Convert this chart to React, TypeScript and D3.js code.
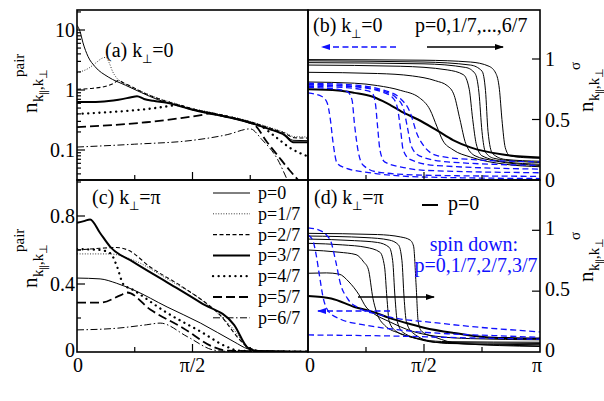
import React from 'react';
import * as d3 from 'd3';

type Pt = [number, number];

const FONT = '"Liberation Serif", "Times New Roman", Times, serif';
const BLUE = '#1010ff';
const PAR = '\u2225';

const pLabels = ['p=0', 'p=1/7', 'p=2/7', 'p=3/7', 'p=4/7', 'p=5/7', 'p=6/7'];
const xTickLabelsL = ['0', 'π/2'];
const xTickLabelsR = ['0', 'π/2', 'π'];

// (a) pair momentum distribution, k_perp = 0 (k in units of pi), log scale
const pairA0: Pt[] = [[0, 12], [0.013, 9.5], [0.026, 6.1], [0.048, 3.6], [0.078, 2.45], [0.135, 1.65], [0.21, 1.2], [0.28, 0.9], [0.35, 0.69], [0.43, 0.56], [0.5, 0.47], [0.57, 0.41], [0.65, 0.355], [0.735, 0.295], [0.83, 0.225], [0.9, 0.18], [0.935, 0.145], [1, 0.143]];
const pairA1: Pt[] = [[0, 1.95], [0.05, 2.3], [0.08, 2.8], [0.11, 3.4], [0.125, 3.5], [0.14, 2.8], [0.155, 2.0], [0.17, 1.62], [0.21, 1.26], [0.28, 0.94], [0.35, 0.73], [0.43, 0.59], [0.5, 0.49], [0.57, 0.43], [0.65, 0.37], [0.735, 0.31], [0.83, 0.24], [0.9, 0.195], [0.94, 0.167], [1, 0.165]];
const pairA2: Pt[] = [[0, 1.03], [0.07, 1.07], [0.13, 1.17], [0.16, 1.3], [0.18, 1.45], [0.2, 1.32], [0.23, 1.17], [0.28, 0.93], [0.35, 0.72], [0.43, 0.58], [0.5, 0.485], [0.57, 0.425], [0.65, 0.365], [0.735, 0.305], [0.83, 0.235], [0.9, 0.19], [0.94, 0.16], [1, 0.158]];
const pairA3: Pt[] = [[0, 0.63], [0.1, 0.64], [0.18, 0.69], [0.23, 0.75], [0.26, 0.79], [0.29, 0.71], [0.33, 0.66], [0.39, 0.61], [0.43, 0.56], [0.5, 0.47], [0.57, 0.41], [0.65, 0.355], [0.735, 0.295], [0.83, 0.225], [0.9, 0.175], [0.935, 0.135], [1, 0.135]];
const pairA4: Pt[] = [[0, 0.4], [0.15, 0.43], [0.3, 0.48], [0.4, 0.54], [0.43, 0.56], [0.5, 0.475], [0.57, 0.415], [0.65, 0.36], [0.735, 0.3], [0.8, 0.245], [0.86, 0.165], [0.92, 0.11], [1, 0.078]];
const pairA5: Pt[] = [[0, 0.24], [0.15, 0.26], [0.3, 0.29], [0.45, 0.34], [0.55, 0.39], [0.575, 0.41], [0.65, 0.355], [0.735, 0.295], [0.77, 0.26], [0.82, 0.14], [0.87, 0.08], [0.92, 0.046], [0.95, 0.034], [0.98, 0.025]];
const pairA6: Pt[] = [[0, 0.112], [0.25, 0.125], [0.5, 0.145], [0.65, 0.18], [0.75, 0.225], [0.8, 0.15], [0.87, 0.068], [0.91, 0.032], [0.93, 0.022]];

// (c) pair momentum distribution, k_perp = pi
const pairC0: Pt[] = [[0, 0.435], [0.1, 0.43], [0.17, 0.405], [0.245, 0.365], [0.39, 0.265], [0.535, 0.17], [0.68, 0.06], [0.74, 0.018], [0.8, 0.006], [1, 0.002]];
const pairC1: Pt[] = [[0, 0.577], [0.14, 0.577], [0.245, 0.54], [0.39, 0.43], [0.535, 0.31], [0.68, 0.13], [0.745, 0.02], [0.8, 0.006], [1, 0.002]];
const pairC2: Pt[] = [[0, 0.6], [0.1, 0.61], [0.17, 0.615], [0.22, 0.6], [0.317, 0.5], [0.46, 0.38], [0.61, 0.23], [0.74, 0.03], [0.8, 0.006], [1, 0.002]];
const pairC3: Pt[] = [[0, 0.76], [0.03, 0.77], [0.057, 0.78], [0.1, 0.7], [0.143, 0.62], [0.243, 0.53], [0.39, 0.41], [0.535, 0.29], [0.68, 0.16], [0.74, 0.024], [0.78, 0.006], [1, 0.002]];
const pairC4: Pt[] = [[0, 0.605], [0.1, 0.6], [0.145, 0.58], [0.174, 0.5], [0.2, 0.4], [0.243, 0.365], [0.39, 0.23], [0.535, 0.12], [0.65, 0.03], [0.7, 0.008], [1, 0.002]];
const pairC5: Pt[] = [[0, 0.29], [0.1, 0.29], [0.19, 0.335], [0.217, 0.35], [0.317, 0.25], [0.46, 0.14], [0.59, 0.03], [0.65, 0.008], [1, 0.002]];
const pairC6: Pt[] = [[0, 0.13], [0.174, 0.14], [0.3, 0.16], [0.36, 0.17], [0.478, 0.09], [0.59, 0.012], [0.65, 0.004], [1, 0.002]];

// (b) spin resolved n(k), k_perp = 0 ; p=0 (both spins), spin up p=1/7..6/7, spin down p=1/7..6/7
const bothB0: Pt[] = [[0, 0.75], [0.13, 0.74], [0.2, 0.72], [0.276, 0.69], [0.345, 0.63], [0.418, 0.55], [0.474, 0.5], [0.556, 0.41], [0.625, 0.33], [0.7, 0.27], [0.84, 0.21], [1, 0.185]];
const upB1: Pt[] = [[0, 0.81], [0.2, 0.8], [0.3, 0.78], [0.4, 0.74], [0.48, 0.68], [0.526, 0.58], [0.556, 0.44], [0.58, 0.33], [0.625, 0.25], [0.7, 0.19], [0.85, 0.13], [1, 0.11]];
const upB2: Pt[] = [[0, 0.89], [0.3, 0.88], [0.45, 0.86], [0.55, 0.82], [0.6, 0.78], [0.63, 0.7], [0.655, 0.5], [0.68, 0.3], [0.72, 0.2], [0.8, 0.16], [1, 0.12]];
const upB3: Pt[] = [[0, 0.95], [0.4, 0.94], [0.6, 0.91], [0.67, 0.87], [0.695, 0.75], [0.71, 0.5], [0.725, 0.3], [0.75, 0.2], [0.85, 0.15], [1, 0.13]];
const upB4: Pt[] = [[0, 0.97], [0.5, 0.96], [0.68, 0.93], [0.72, 0.88], [0.737, 0.72], [0.75, 0.4], [0.765, 0.23], [0.8, 0.18], [0.9, 0.155], [1, 0.145]];
const upB5: Pt[] = [[0, 0.985], [0.5, 0.975], [0.7, 0.95], [0.75, 0.9], [0.765, 0.74], [0.776, 0.4], [0.795, 0.22], [0.85, 0.17], [1, 0.155]];
const upB6: Pt[] = [[0, 0.995], [0.5, 0.99], [0.7, 0.975], [0.78, 0.94], [0.81, 0.88], [0.825, 0.75], [0.836, 0.5], [0.85, 0.27], [0.87, 0.2], [0.93, 0.185], [1, 0.18]];
const downB1: Pt[] = [[0, 0.8], [0.2, 0.785], [0.33, 0.74], [0.4, 0.67], [0.44, 0.56], [0.47, 0.38], [0.5, 0.28], [0.56, 0.2], [0.7, 0.17], [1, 0.15]];
const downB2: Pt[] = [[0, 0.79], [0.2, 0.775], [0.33, 0.73], [0.38, 0.68], [0.41, 0.6], [0.43, 0.42], [0.445, 0.28], [0.48, 0.2], [0.6, 0.15], [1, 0.12]];
const downB3: Pt[] = [[0, 0.785], [0.2, 0.77], [0.33, 0.72], [0.365, 0.68], [0.385, 0.6], [0.4, 0.4], [0.41, 0.25], [0.44, 0.17], [0.55, 0.12], [1, 0.09]];
const downB4: Pt[] = [[0, 0.775], [0.15, 0.765], [0.25, 0.74], [0.276, 0.72], [0.29, 0.64], [0.3, 0.44], [0.31, 0.25], [0.33, 0.15], [0.42, 0.1], [0.5, 0.08], [1, 0.06]];
const downB5: Pt[] = [[0, 0.765], [0.1, 0.755], [0.17, 0.73], [0.19, 0.66], [0.2, 0.47], [0.215, 0.25], [0.237, 0.124], [0.3, 0.066], [0.49, 0.04], [1, 0.03]];
const downB6: Pt[] = [[0, 0.72], [0.06, 0.69], [0.082, 0.64], [0.095, 0.52], [0.108, 0.31], [0.125, 0.14], [0.16, 0.1], [0.276, 0.058], [0.49, 0.025], [1, 0.012]];

// (d) spin resolved n(k), k_perp = pi ; spin down only p=1/7..3/7
const bothD0: Pt[] = [[0, 0.46], [0.1, 0.44], [0.2, 0.37], [0.28, 0.33], [0.35, 0.28], [0.42, 0.24], [0.5, 0.2], [0.63, 0.156], [0.78, 0.12], [1, 0.11]];
const upD1: Pt[] = [[0, 0.647], [0.08, 0.65], [0.134, 0.64], [0.177, 0.575], [0.22, 0.47], [0.25, 0.37], [0.28, 0.32], [0.35, 0.25], [0.45, 0.17], [0.55, 0.13], [0.7, 0.11], [1, 0.1]];
const upD2: Pt[] = [[0, 0.838], [0.134, 0.82], [0.207, 0.8], [0.24, 0.74], [0.26, 0.68], [0.28, 0.44], [0.295, 0.33], [0.33, 0.22], [0.4, 0.15], [0.5, 0.1], [0.6, 0.085], [1, 0.08]];
const upD3: Pt[] = [[0, 0.893], [0.15, 0.88], [0.25, 0.86], [0.31, 0.82], [0.33, 0.7], [0.34, 0.45], [0.35, 0.25], [0.38, 0.17], [0.45, 0.12], [0.55, 0.08], [1, 0.07]];
const upD4: Pt[] = [[0, 0.928], [0.2, 0.915], [0.3, 0.9], [0.35, 0.86], [0.365, 0.75], [0.375, 0.45], [0.385, 0.25], [0.41, 0.16], [0.5, 0.1], [0.6, 0.07], [1, 0.06]];
const upD5: Pt[] = [[0, 0.953], [0.25, 0.94], [0.35, 0.92], [0.39, 0.88], [0.405, 0.75], [0.414, 0.45], [0.424, 0.25], [0.45, 0.16], [0.55, 0.08], [1, 0.05]];
const upD6: Pt[] = [[0, 0.975], [0.3, 0.965], [0.4, 0.945], [0.44, 0.92], [0.455, 0.87], [0.466, 0.55], [0.475, 0.25], [0.49, 0.17], [0.55, 0.12], [0.65, 0.07], [1, 0.045]];
const downD1: Pt[] = [[0, 1.02], [0.05, 1.0], [0.08, 0.96], [0.1, 0.9], [0.12, 0.74], [0.14, 0.56], [0.17, 0.44], [0.22, 0.36], [0.3, 0.31], [0.4, 0.27], [0.5, 0.25], [0.7, 0.21], [1, 0.165]];
const downD2: Pt[] = [[0, 0.96], [0.02, 0.92], [0.035, 0.8], [0.05, 0.62], [0.065, 0.45], [0.09, 0.33], [0.14, 0.27], [0.25, 0.22], [0.4, 0.18], [0.6, 0.15], [0.8, 0.135], [1, 0.12]];
const downD3: Pt[] = [[0, 0.14], [0.2, 0.136], [0.4, 0.13], [0.6, 0.12], [0.8, 0.112], [1, 0.105]];

const pairA = [pairA0, pairA1, pairA2, pairA3, pairA4, pairA5, pairA6];
const pairC = [pairC0, pairC1, pairC2, pairC3, pairC4, pairC5, pairC6];
const upB = [upB1, upB2, upB3, upB4, upB5, upB6];
const downB = [downB1, downB2, downB3, downB4, downB5, downB6];
const upD = [upD1, upD2, upD3, upD4, upD5, upD6];
const downD = [downD1, downD2, downD3];

// line styles for p = 0 ... 6/7
const pStyles = [
  { w: 1, dash: undefined as string | undefined, cap: 'butt' },
  { w: 0.9, dash: '1,1.6', cap: 'butt' },
  { w: 1.1, dash: '4,2.5', cap: 'butt' },
  { w: 2, dash: undefined, cap: 'butt' },
  { w: 2.3, dash: '0.1,5.5', cap: 'round' },
  { w: 1.8, dash: '9,4', cap: 'butt' },
  { w: 1, dash: '7,2.5,1.5,2.5', cap: 'butt' },
];

const XL0 = 77, XL1 = 308, XR0 = 308, XR1 = 540;
const YT0 = 10, YT1 = 180, YB0 = 180, YB1 = 352;

const xL = d3.scaleLinear().domain([0, 1]).range([XL0, XL1]);
const xR = d3.scaleLinear().domain([0, 1]).range([XR0, XR1]);
const yA = d3.scaleLog().domain([Math.pow(10, -1.5), Math.pow(10, 4 / 3)]).range([YT1, YT0]);
const yB = d3.scaleLinear().domain([0, 170 / 121]).range([YT1, YT0]);
const yC = d3.scaleLinear().domain([0, 172 / 170]).range([YB1, YB0]);
const yD = d3.scaleLinear().domain([0, 172 / 121.7]).range([YB1, YB0]);

function path(data: Pt[], x: any, y: any) {
  return d3.line<Pt>().x(d => x(d[0])).y(d => y(d[1])).curve(d3.curveMonotoneX)(data) || '';
}

const xTickVals = [0.25, 0.5, 0.75];

function XTicks({ x, yb }: { x: any; yb: number }) {
  return (
    <g stroke="#000" strokeWidth={1.2}>
      {xTickVals.map(v => (
        <line key={v} x1={x(v)} x2={x(v)} y1={yb} y2={yb - (v === 0.5 ? 8 : 5)} />
      ))}
    </g>
  );
}

function Par({ dy = 5 }: { dy?: number }) {
  return <tspan fontSize={12} dy={dy}>{PAR}</tspan>;
}

function YLabel({ x, y, sup, supAt }: { x: number; y: number; sup: string; supAt: number }) {
  return (
    <g transform={`translate(${x},${y}) rotate(-90)`} fill="#000">
      <text x={0} y={0} fontSize={21}>n</text>
      <text x={11} y={6} fontSize={15}>k</text>
      <text x={18.5} y={10} fontSize={10}>{PAR}</text>
      <text x={23} y={6} fontSize={15}>,k</text>
      <text x={34.5} y={10} fontSize={11}>⊥</text>
      <text x={supAt} y={-13} fontSize={15}>{sup}</text>
    </g>
  );
}

export default function App() {
  const logTicks = yA.ticks();
  return (
    <svg width={604} height={401}
      style={{ position: 'absolute', left: 0, top: 0, background: '#fff', fontFamily: FONT }}>
      <style>{`text, tspan { font-family: ${FONT} !important; }`}</style>
      <defs>
        {/* identity filter: text drawn through it gets plain grey-scale antialiasing */}
        <filter id="flat" x="0" y="0" width="1" height="1" filterUnits="userSpaceOnUse">
          <feOffset dx={0} dy={0} />
        </filter>
        <clipPath id="cA"><rect x={XL0} y={YT0} width={XL1 - XL0} height={YT1 - YT0} /></clipPath>
        <clipPath id="cB"><rect x={XR0} y={YT0} width={XR1 - XR0} height={YT1 - YT0} /></clipPath>
        <clipPath id="cC"><rect x={XL0} y={YB0} width={XL1 - XL0} height={YB1 - YB0} /></clipPath>
        <clipPath id="cD"><rect x={XR0} y={YB0} width={XR1 - XR0} height={YB1 - YB0} /></clipPath>
        <marker id="hk" markerWidth={9} markerHeight={7} refX={8} refY={3.5} orient="auto" markerUnits="userSpaceOnUse">
          <path d="M0,0.5 L9,3.5 L0,6.5 Z" fill="#000" />
        </marker>
        <marker id="hb" markerWidth={9} markerHeight={7} refX={8} refY={3.5} orient="auto" markerUnits="userSpaceOnUse">
          <path d="M0,0.5 L9,3.5 L0,6.5 Z" fill={BLUE} />
        </marker>
      </defs>

      {/* panel (a) */}
      <g clipPath="url(#cA)" fill="none" stroke="#000">
        {pairA.map((d, i) => (
          <path key={i} d={path(d, xL, yA)} strokeWidth={pStyles[i].w} strokeDasharray={pStyles[i].dash}
            strokeLinecap={pStyles[i].cap as any} stroke={i === 1 ? '#222' : '#000'} />
        ))}
      </g>
      {/* panel (c) */}
      <g clipPath="url(#cC)" fill="none" stroke="#000">
        {pairC.map((d, i) => (
          <path key={i} d={path(d, xL, yC)} strokeWidth={pStyles[i].w} strokeDasharray={pStyles[i].dash}
            strokeLinecap={pStyles[i].cap as any} stroke={i === 1 ? '#222' : '#000'} />
        ))}
      </g>
      {/* panel (b) */}
      <g clipPath="url(#cB)" fill="none">
        {upB.map((d, i) => (
          <path key={i} d={path(d, xR, yB)} stroke="#000" strokeWidth={1} />
        ))}
        <path d={path(bothB0, xR, yB)} stroke="#000" strokeWidth={2} />
        {downB.map((d, i) => (
          <path key={i} d={path(d, xR, yB)} stroke={BLUE} strokeWidth={1.3} strokeDasharray="6,3.5" />
        ))}
      </g>
      {/* panel (d) */}
      <g clipPath="url(#cD)" fill="none">
        {upD.map((d, i) => (
          <path key={i} d={path(d, xR, yD)} stroke="#000" strokeWidth={1} />
        ))}
        <path d={path(bothD0, xR, yD)} stroke="#000" strokeWidth={2} />
        {downD.map((d, i) => (
          <path key={i} d={path(d, xR, yD)} stroke={BLUE} strokeWidth={1.3} strokeDasharray="6,3.5" />
        ))}
      </g>

      {/* arrows */}
      <line x1={427} y1={47} x2={503} y2={47} stroke="#000" strokeWidth={1.3} markerEnd="url(#hk)" />
      <line x1={396} y1={47} x2={322} y2={47} stroke={BLUE} strokeWidth={1.3} strokeDasharray="6,3.5" markerEnd="url(#hb)" />
      <line x1={358} y1={297} x2={434} y2={297} stroke="#000" strokeWidth={1.3} markerEnd="url(#hk)" />
      <line x1={390} y1={311} x2={318} y2={311} stroke={BLUE} strokeWidth={1.3} strokeDasharray="6,3.5" markerEnd="url(#hb)" />

      {/* ticks */}
      <g stroke="#000" strokeWidth={1.2}>
        {logTicks.map((v, i) => {
          const major = Math.abs(Math.log10(v) - Math.round(Math.log10(v))) < 1e-6;
          return <line key={i} x1={XL0} x2={XL0 + (major ? 8 : 4)} y1={yA(v)} y2={yA(v)} />;
        })}
        {[0.2, 0.4, 0.6, 0.8, 1.0].map(v => (
          <line key={v} x1={XL0} x2={XL0 + (Math.round(v * 10) % 4 === 0 ? 8 : 4)} y1={yC(v)} y2={yC(v)} />
        ))}
        {[0.5, 1].map(v => <line key={'b' + v} x1={XR1} x2={XR1 - 8} y1={yB(v)} y2={yB(v)} />)}
        {[0.5, 1].map(v => <line key={'d' + v} x1={XR1} x2={XR1 - 8} y1={yD(v)} y2={yD(v)} />)}
      </g>
      <XTicks x={xL} yb={YT1} />
      <XTicks x={xL} yb={YB1} />
      <XTicks x={xR} yb={YT1} />
      <XTicks x={xR} yb={YB1} />

      {/* frames */}
      <g fill="none" stroke="#000" strokeWidth={1.6}>
        <rect x={XL0} y={YT0} width={XL1 - XL0} height={YT1 - YT0} />
        <rect x={XR0} y={YT0} width={XR1 - XR0} height={YT1 - YT0} />
        <rect x={XL0} y={YB0} width={XL1 - XL0} height={YB1 - YB0} />
        <rect x={XR0} y={YB0} width={XR1 - XR0} height={YB1 - YB0} />
      </g>

      {/* y tick labels */}
      <g fontSize={20} fill="#000">
        {[10, 1, 0.1].map(v => (
          <text key={v} x={75} y={yA(v) + 7} textAnchor="end">{String(v)}</text>
        ))}
        {[0.4, 0.8].map(v => (
          <text key={v} x={75} y={yC(v) + 7} textAnchor="end">{String(v)}</text>
        ))}
        <text x={75} y={yC(0) + 5} textAnchor="end">0</text>
        {[0, 0.5, 1].map(v => (
          <text key={'b' + v} x={545} y={yB(v) + 7}>{String(v)}</text>
        ))}
        {[0, 0.5, 1].map(v => (
          <text key={'d' + v} x={545} y={yD(v) + 5}>{String(v)}</text>
        ))}
      </g>

      {/* x tick labels */}
      <g fontSize={20} fill="#000" textAnchor="middle">
        {xTickLabelsL.map((t, i) => (
          <text key={t} x={xL(i * 0.5) + (i === 0 ? 1 : 0)} y={372}>{t}</text>
        ))}
        {xTickLabelsR.map((t, i) => (
          <text key={t} x={xR(i * 0.5) + (i === 0 ? 2 : i === 2 ? -3 : 0)} y={372}>{t}</text>
        ))}
      </g>
      <g fontSize={20} fill="#000" textAnchor="middle" filter="url(#flat)">
        <text x={193} y={392}>momentum k<Par /></text>
        <text x={426} y={392}>momentum k<Par /></text>
      </g>

      {/* y labels */}
      <YLabel x={37} y={113} sup="pair" supAt={36} />
      <YLabel x={37} y={288} sup="pair" supAt={36} />
      <YLabel x={593} y={112} sup="σ" supAt={42} />
      <YLabel x={593} y={282} sup="σ" supAt={42} />

      {/* annotations */}
      <g fontSize={20} fill="#000" filter="url(#flat)">
        <text x={77} y={34}>-U=-8t<Par /><tspan dy={-5}>, L=50, t</tspan><tspan fontSize={12} dy={5}>⊥</tspan><tspan dy={-5}>=t</tspan><Par /><tspan dy={-5}>, n=0.7</tspan></text>
      </g>
      <g fontSize={20} fill="#000">
        <text x={105} y={57}>(a) k<tspan fontSize={12} dy={6}>⊥</tspan><tspan dy={-6}>=0</tspan></text>
        <text x={313} y={32}>(b) k<tspan fontSize={12} dy={6}>⊥</tspan><tspan dy={-6}>=0</tspan></text>
        <text x={415} y={32}>p=0,1/7,...,6/7</text>
        <text x={92} y={204}>(c) k<tspan fontSize={12} dy={6}>⊥</tspan><tspan dy={-6}>=π</tspan></text>
        <text x={314} y={204}>(d) k<tspan fontSize={12} dy={6}>⊥</tspan><tspan dy={-6}>=π</tspan></text>
        <line x1={422} x2={438} y1={205} y2={205} stroke="#000" strokeWidth={2} />
        <text x={448} y={210}>p=0</text>
        <text x={474} y={251} fill={BLUE} textAnchor="middle">spin down:</text>
        <text x={476} y={272} fill={BLUE} textAnchor="middle">p=0,1/7,2/7,3/7</text>
      </g>

      {/* legend (c) */}
      <g fontSize={18} fill="#000">
        {pLabels.map((t, i) => {
          const yy = 193 + i * 20.8;
          return (
            <g key={t}>
              <line x1={213} x2={250} y1={yy} y2={yy} stroke={i === 1 ? '#222' : '#000'} strokeWidth={pStyles[i].w}
                strokeDasharray={pStyles[i].dash} strokeLinecap={pStyles[i].cap as any} />
              <text x={258} y={yy + 6}>{t}</text>
            </g>
          );
        })}
      </g>
    </svg>
  );
}
